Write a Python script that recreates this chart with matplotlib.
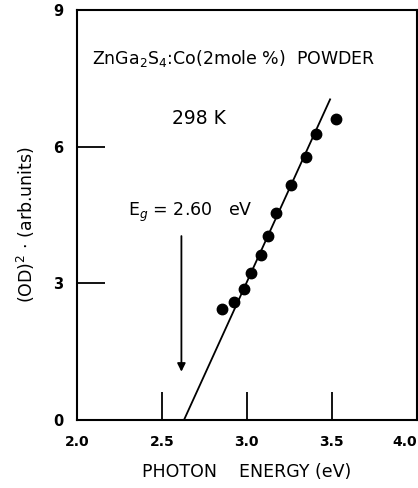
import matplotlib
matplotlib.use("Agg")
import matplotlib.pyplot as plt

energy = [2.853, 2.924, 2.982, 3.024, 3.082, 3.124, 3.171, 3.259, 3.347, 3.406, 3.524]
od2 = [2.44, 2.59, 2.88, 3.23, 3.62, 4.04, 4.55, 5.15, 5.77, 6.27, 6.60]
fit_x = [2.63, 3.49]
fit_y = [0.0, 7.04]
xticks = [2.0, 2.5, 3.0, 3.5, 4.0]
xticklabels = ["2.0", "2.5", "3.0", "3.5", "4.0"]
yticks = [0, 3, 6, 9]
yticklabels = ["0", "3", "6", "9"]

plt.rcParams['font.family'] = ['DejaVu Sans']
fig = plt.figure(figsize=(4.18, 4.88), dpi=100)
ax = fig.add_axes([0.184, 0.1393, 0.813, 0.840])

ax.plot(fit_x, fit_y, color='black', lw=1.3)
ax.plot(energy, od2, 'o', color='black', markersize=7.5)

ax.annotate('', xy=(2.615, 1.0), xytext=(2.615, 4.1),
            arrowprops=dict(arrowstyle='-|>', color='black', lw=1.3,
                            mutation_scale=12))

ax.text(2.92, 7.93, r'ZnGa$_2$S$_4$:Co(2mole %)  POWDER', ha='center', va='center',
        fontsize=12.5)
ax.text(2.72, 6.62, '298 K', ha='center', va='center', fontsize=13.5)
ax.text(2.665, 4.55, r'E$_g$ = 2.60   eV', ha='center', va='center', fontsize=12.5)

ax.set_xlim(2.0, 4.0)
ax.set_ylim(0, 9)
ax.set_xticks(xticks)
ax.set_xticklabels(xticklabels, fontsize=10, fontweight='bold')
ax.set_yticks(yticks)
ax.set_yticklabels(yticklabels, fontsize=10.5, fontweight='bold')
ax.tick_params(axis='both', direction='in', length=20, width=1.3, pad=10)
ax.tick_params(axis='x', pad=11)
for s in ax.spines.values():
    s.set_linewidth(1.5)

ax.get_xticklabels()[-1].set_horizontalalignment('right')

ax.set_xlabel('PHOTON    ENERGY (eV)', fontsize=12.5, labelpad=10)
ax.set_ylabel(r'(OD)$^2$ $\cdot$ (arb.units)', fontsize=12.5)
ax.yaxis.set_label_coords(-0.118, 0.476)

fig.savefig('out.png', dpi=100)
